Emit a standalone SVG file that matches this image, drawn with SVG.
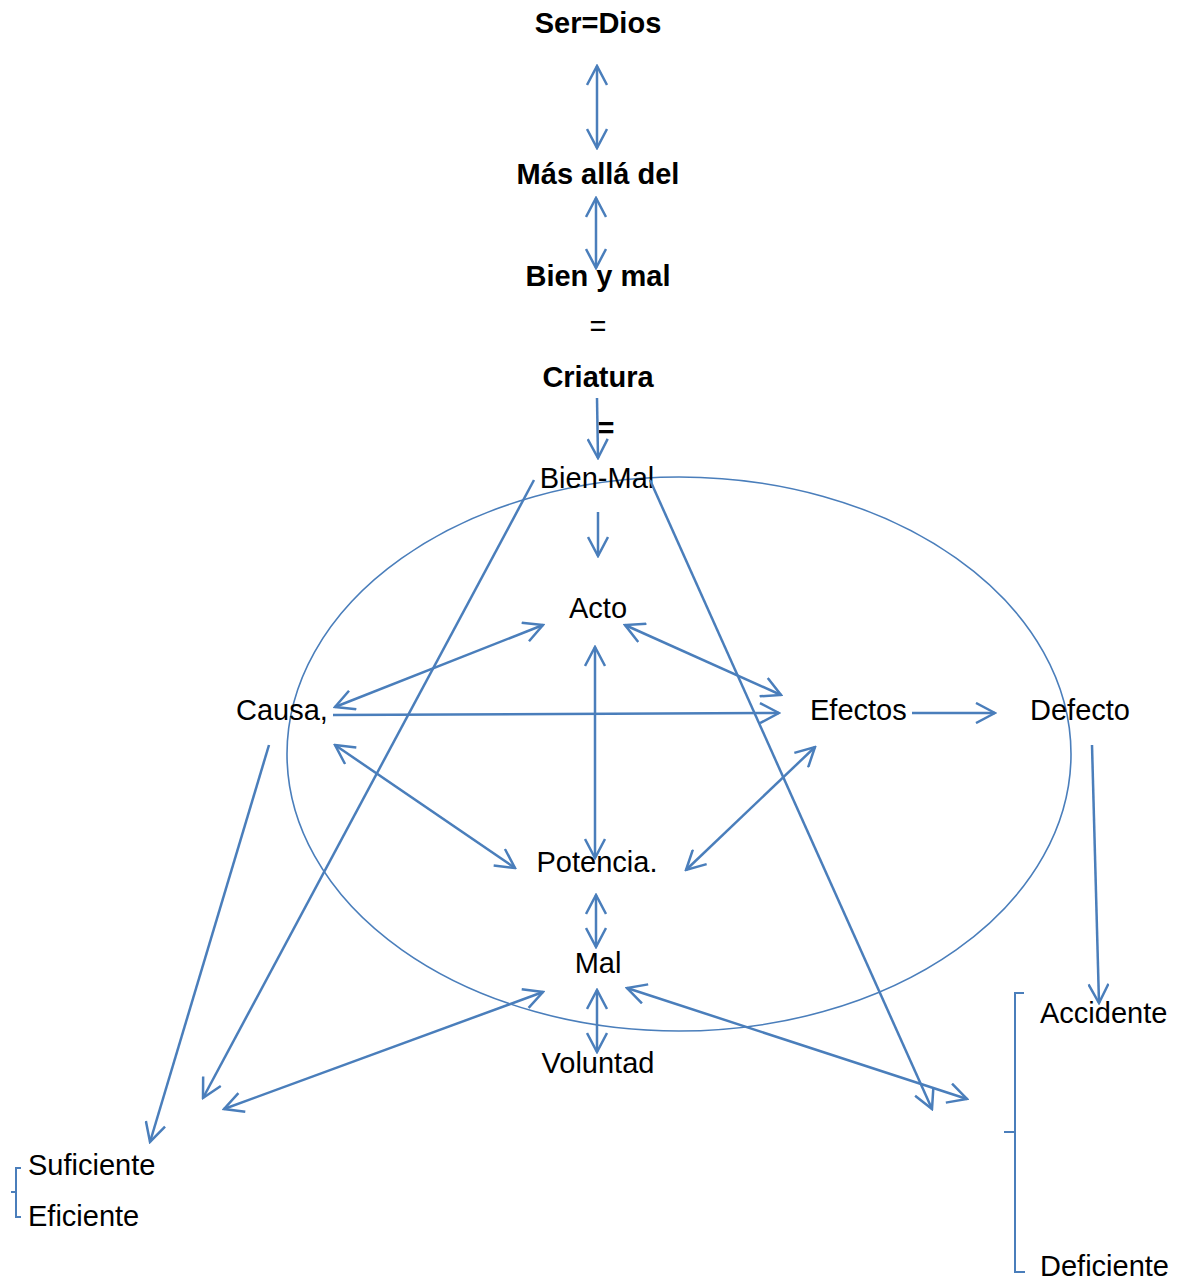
<svg xmlns="http://www.w3.org/2000/svg" width="1181" height="1281" viewBox="0 0 1181 1281">
<style>
text{font-family:"Liberation Sans",Arial,sans-serif;font-size:29px;fill:#000}
.b{font-weight:bold}
.c{stroke:#4a7ebb;stroke-width:2.5;fill:none}
.e{stroke:#4a7ebb;stroke-width:1.6;fill:none}
.k{stroke:#4a7ebb;stroke-width:2;fill:none}
</style>
<defs>
<marker id="ah" viewBox="0 0 22 22" refX="20" refY="11" markerWidth="22" markerHeight="22" markerUnits="userSpaceOnUse" orient="auto-start-reverse">
<path d="M1,1 L20,11 L1,21" fill="none" stroke="#4a7ebb" stroke-width="2.5"/>
</marker>
</defs>
<rect width="1181" height="1281" fill="#fff"/>
<ellipse class="e" cx="679" cy="754" rx="392" ry="277"/>
<g id="n-serdios"><text class="b" x="598" y="33" text-anchor="middle">Ser=Dios</text></g>
<g id="n-masalla"><text class="b" x="598" y="184" text-anchor="middle">Más allá del</text></g>
<g id="n-bienymal"><text class="b" x="598" y="286" text-anchor="middle">Bien y mal</text></g>
<g id="n-eq1"><text x="598" y="336" text-anchor="middle">=</text></g>
<g id="n-criatura"><text class="b" x="598" y="387" text-anchor="middle">Criatura</text></g>
<g id="n-eq2"><text class="b" x="606" y="438" text-anchor="middle">=</text></g>
<g id="n-bienmal"><text x="597" y="488" text-anchor="middle">Bien-Mal</text></g>
<g id="n-acto"><text x="598" y="618" text-anchor="middle">Acto</text></g>
<g id="n-causa"><text x="236" y="720">Causa,</text></g>
<g id="n-efectos"><text x="810" y="720">Efectos</text></g>
<g id="n-defecto"><text x="1030" y="720">Defecto</text></g>
<g id="n-potencia"><text x="597" y="872" text-anchor="middle">Potencia.</text></g>
<g id="n-mal"><text x="598" y="973" text-anchor="middle">Mal</text></g>
<g id="n-voluntad"><text x="598" y="1073" text-anchor="middle">Voluntad</text></g>
<g id="n-suficiente"><text x="28" y="1175">Suficiente</text></g>
<g id="n-eficiente"><text x="28" y="1226">Eficiente</text></g>
<g id="n-accidente"><text x="1040" y="1023">Accidente</text></g>
<g id="n-deficiente"><text x="1040" y="1276">Deficiente</text></g>
<g id="brackets">
<path class="k" d="M21,1168 L16,1168 L16,1217 L21,1217 M16,1192 L11,1192"/>
<path class="k" d="M1024,993 L1015,993 L1015,1272 L1025,1272 M1015,1132 L1004,1132"/>
</g>
<g id="connectors">
<line class="c" x1="597" y1="66" x2="597" y2="148" marker-start="url(#ah)" marker-end="url(#ah)"/>
<line class="c" x1="596" y1="198" x2="596" y2="268" marker-start="url(#ah)" marker-end="url(#ah)"/>
<line class="c" x1="597" y1="398" x2="598" y2="458" marker-end="url(#ah)"/>
<line class="c" x1="598" y1="512" x2="598" y2="556" marker-end="url(#ah)"/>
<line class="c" x1="534" y1="480" x2="203" y2="1098" marker-end="url(#ah)"/>
<line class="c" x1="650" y1="480" x2="932" y2="1109" marker-end="url(#ah)"/>
<line class="c" x1="335" y1="707" x2="543" y2="625" marker-start="url(#ah)" marker-end="url(#ah)"/>
<line class="c" x1="333" y1="715" x2="779" y2="713" marker-end="url(#ah)"/>
<line class="c" x1="625" y1="625" x2="781" y2="695" marker-start="url(#ah)" marker-end="url(#ah)"/>
<line class="c" x1="595" y1="647" x2="595" y2="858" marker-start="url(#ah)" marker-end="url(#ah)"/>
<line class="c" x1="335" y1="745" x2="515" y2="868" marker-start="url(#ah)" marker-end="url(#ah)"/>
<line class="c" x1="815" y1="747" x2="686" y2="870" marker-start="url(#ah)" marker-end="url(#ah)"/>
<line class="c" x1="912" y1="713" x2="995" y2="713" marker-end="url(#ah)"/>
<line class="c" x1="1092" y1="745" x2="1099" y2="1003" marker-end="url(#ah)"/>
<line class="c" x1="269" y1="745" x2="150" y2="1142" marker-end="url(#ah)"/>
<line class="c" x1="596" y1="895" x2="596" y2="947" marker-start="url(#ah)" marker-end="url(#ah)"/>
<line class="c" x1="597" y1="990" x2="597" y2="1052" marker-start="url(#ah)" marker-end="url(#ah)"/>
<line class="c" x1="543" y1="992" x2="224" y2="1109" marker-start="url(#ah)" marker-end="url(#ah)"/>
<line class="c" x1="627" y1="988" x2="967" y2="1099" marker-start="url(#ah)" marker-end="url(#ah)"/>
</g>
</svg>
